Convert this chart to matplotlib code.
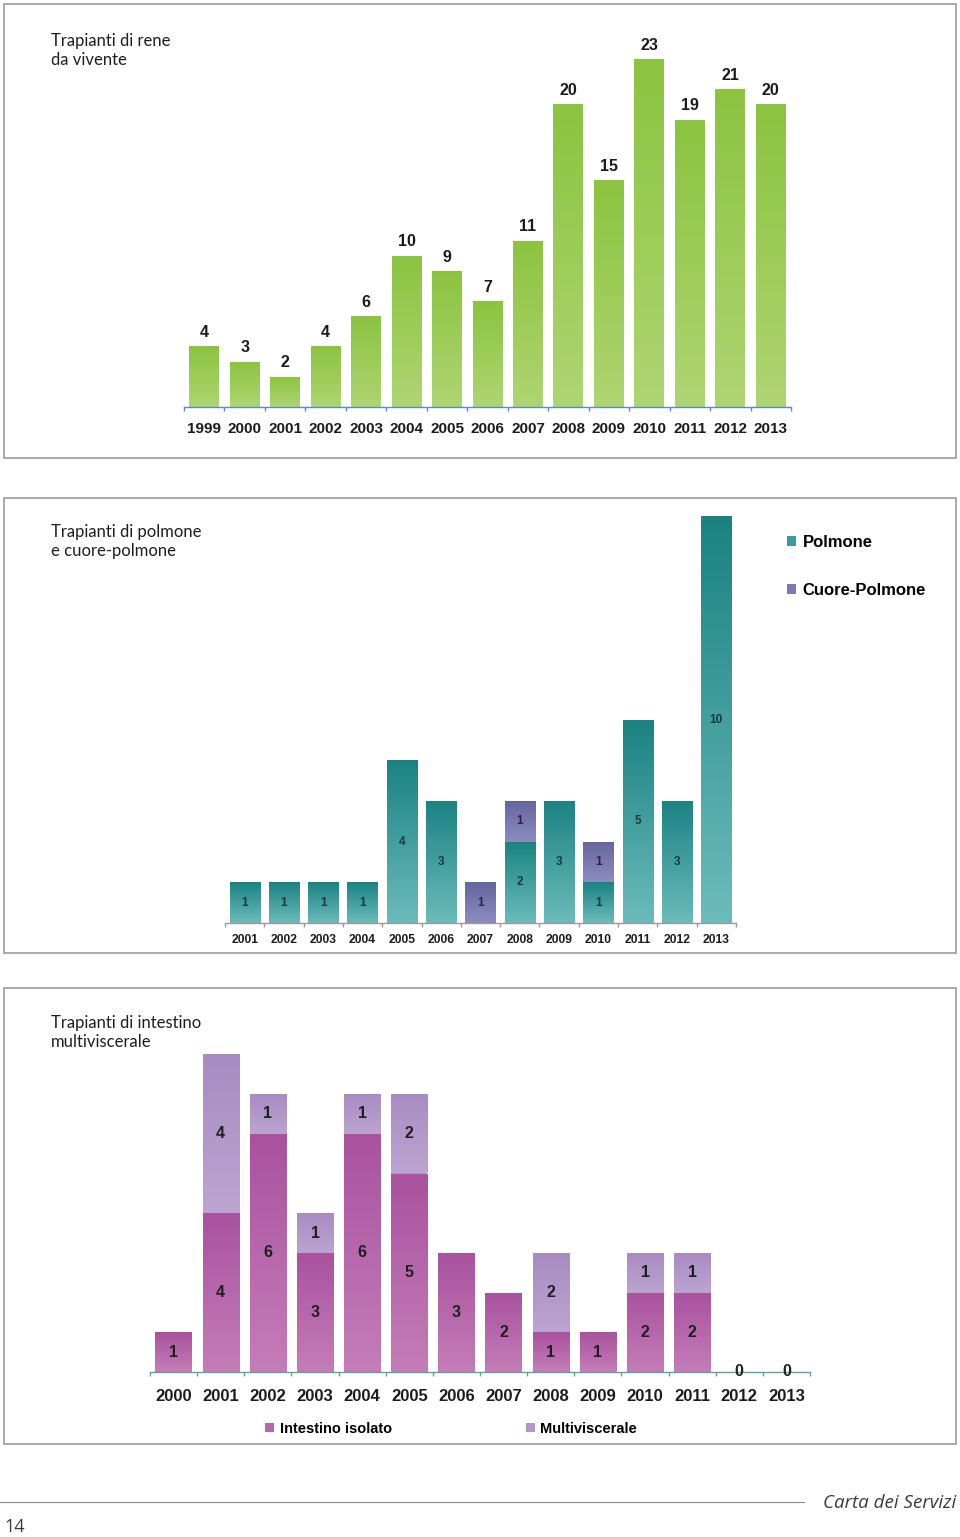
import numpy as np
import matplotlib
matplotlib.use("Agg")
import matplotlib.pyplot as plt
from matplotlib.colors import LinearSegmentedColormap
from matplotlib.patches import Rectangle
from matplotlib.lines import Line2D

# --------------------------------------------------------------------------- #
# Dati
# --------------------------------------------------------------------------- #
anni_rene = ["1999", "2000", "2001", "2002", "2003", "2004", "2005", "2006",
             "2007", "2008", "2009", "2010", "2011", "2012", "2013"]
rene_vivente = [4, 3, 2, 4, 6, 10, 9, 7, 11, 20, 15, 23, 19, 21, 20]

anni_polmone = ["2001", "2002", "2003", "2004", "2005", "2006", "2007",
                "2008", "2009", "2010", "2011", "2012", "2013"]
polmone = [1, 1, 1, 1, 4, 3, 0, 2, 3, 1, 5, 3, 10]
cuore_polmone = [0, 0, 0, 0, 0, 0, 1, 1, 0, 1, 0, 0, 0]

anni_intestino = ["2000", "2001", "2002", "2003", "2004", "2005", "2006",
                  "2007", "2008", "2009", "2010", "2011", "2012", "2013"]
intestino_isolato = [1, 4, 6, 3, 6, 5, 3, 2, 1, 1, 2, 2, 0, 0]
multiviscerale = [0, 4, 1, 1, 1, 2, 0, 0, 2, 0, 1, 1, 0, 0]

W, H = 960, 1537
SANS = ["Liberation Sans", "DejaVu Sans"]
TITOLO = ["Lato", "DejaVu Sans"]


def fx(x):
    return x / W


def fy(y):
    return 1 - y / H


def asse_px(fig, x0, x1, ytop, ybase):
    return fig.add_axes([fx(x0), fy(ybase), (x1 - x0) / W, (ybase - ytop) / H])


def gradiente(ax, bars, c_top, c_bot):
    """Riempie ogni barra con un gradiente verticale (scuro in alto)."""
    cmap = LinearSegmentedColormap.from_list("g", [c_bot, c_top])
    grad = np.linspace(0, 1, 128).reshape(-1, 1)
    for b in bars:
        if b.get_height() == 0:
            continue
        x0, y0 = b.get_x(), b.get_y()
        im = ax.imshow(grad, extent=[x0, x0 + b.get_width(), y0, y0 + b.get_height()],
                       origin="lower", cmap=cmap, aspect="auto", zorder=2,
                       interpolation="bilinear")
        im.set_clip_path(b)


def prepara_asse(ax, etichette, ymax, col_asse, fs, pad):
    n = len(etichette)
    ax.set_xlim(-0.5, n - 0.5)
    ax.set_ylim(0, ymax)
    ax.set_aspect("auto")
    for s in ("left", "top", "right"):
        ax.spines[s].set_visible(False)
    ax.spines["bottom"].set_color(col_asse)
    ax.spines["bottom"].set_linewidth(1.0)
    ax.set_yticks([])
    ax.set_xticks(range(n))
    ax.set_xticklabels(etichette, fontsize=fs, fontweight="bold", family=SANS)
    ax.tick_params(axis="x", which="major", length=0, pad=pad, labelcolor="#1c1c1c")
    ax.set_xticks(np.arange(n + 1) - 0.5, minor=True)
    ax.tick_params(axis="x", which="minor", length=3, width=1.0, color=col_asse,
                   direction="out")
    ax.patch.set_visible(False)


def cornice(fig, x0, y0, x1, y1):
    fig.add_artist(Rectangle((fx(x0), fy(y1)), (x1 - x0) / W, (y1 - y0) / H,
                             transform=fig.transFigure, fill=False,
                             edgecolor="#a3a3a3", lw=1.3))


fig = plt.figure(figsize=(W / 100, H / 100), dpi=100)

# --------------------------------------------------------------------------- #
# 1. Rene da vivente
# --------------------------------------------------------------------------- #
cornice(fig, 4, 4, 956, 458)
fig.text(fx(51), fy(33), "Trapianti di rene\nda vivente", va="top", ha="left",
         fontsize=12, family=TITOLO, linespacing=1.25, color="#1e1e1e")

ax1 = asse_px(fig, 184, 791, 30, 407)
x1 = np.arange(len(anni_rene))
b1 = ax1.bar(x1, rene_vivente, 0.74, color="#9bcc55", zorder=1)
gradiente(ax1, b1, "#8bc43f", "#aed572")
for i, v in enumerate(rene_vivente):
    ax1.annotate(str(v), (i, v), xytext=(0, 4.5), textcoords="offset points",
                 ha="center", va="bottom", fontsize=11.5, fontweight="bold",
                 family=SANS, color="#1a1a1a")
prepara_asse(ax1, anni_rene, 377 / 15.13, "#5b8cc0", 11, 11)

# --------------------------------------------------------------------------- #
# 2. Polmone e cuore-polmone
# --------------------------------------------------------------------------- #
cornice(fig, 4, 498, 956, 953)
fig.text(fx(51), fy(524), "Trapianti di polmone\ne cuore-polmone", va="top", ha="left",
         fontsize=12, family=TITOLO, linespacing=1.25, color="#1e1e1e")

ax2 = asse_px(fig, 225, 736, 505, 923)
x2 = np.arange(len(anni_polmone))
b2a = ax2.bar(x2, polmone, 0.77, color="#3a9c9c", zorder=1, label="Polmone")
b2b = ax2.bar(x2, cuore_polmone, 0.77, bottom=polmone, color="#7a79b2", zorder=1,
              label="Cuore-Polmone")
gradiente(ax2, b2a, "#1b8282", "#6cbbbb")
gradiente(ax2, b2b, "#66669f", "#8d8cc0")
for i, (p, c) in enumerate(zip(polmone, cuore_polmone)):
    if p:
        ax2.text(i, p / 2, str(p), ha="center", va="center", fontsize=8.5,
                 fontweight="bold", family=SANS, color="#173b3b", zorder=5)
    if c:
        ax2.text(i, p + c / 2, str(c), ha="center", va="center", fontsize=8.5,
                 fontweight="bold", family=SANS, color="#25254a", zorder=5)
prepara_asse(ax2, anni_polmone, 418 / 40.7, "#9a9a9a", 8.7, 8)

fig.legend(handles=[b2a, b2b], labels=["Polmone", "Cuore-Polmone"],
           loc="upper left", bbox_to_anchor=(fx(787), fy(535)), frameon=False,
           prop={"family": SANS, "weight": "bold", "size": 12},
           handlelength=0.55, handleheight=0.55, handletextpad=0.4,
           labelspacing=2.0, borderaxespad=0, borderpad=0)

# --------------------------------------------------------------------------- #
# 3. Intestino / multiviscerale
# --------------------------------------------------------------------------- #
cornice(fig, 4, 988, 956, 1444)
fig.text(fx(51), fy(1015), "Trapianti di intestino\nmultiviscerale", va="top",
         ha="left", fontsize=12, family=TITOLO, linespacing=1.25, color="#1e1e1e")

ax3 = asse_px(fig, 150, 810, 1040, 1372)
x3 = np.arange(len(anni_intestino))
b3a = ax3.bar(x3, intestino_isolato, 0.77, color="#b866ab", zorder=1,
              label="Intestino isolato")
b3b = ax3.bar(x3, multiviscerale, 0.77, bottom=intestino_isolato, color="#b296c8",
              zorder=1, label="Multiviscerale")
gradiente(ax3, b3a, "#a9529f", "#c47db8")
gradiente(ax3, b3b, "#a88bc1", "#bca4d1")
for i, (a, m) in enumerate(zip(intestino_isolato, multiviscerale)):
    ax3.text(i, a / 2, str(a), ha="center", va="center", fontsize=11.5,
             fontweight="bold", family=SANS, color="#1f1f1f", zorder=6)
    if m:
        ax3.text(i, a + m / 2, str(m), ha="center", va="center", fontsize=11.5,
                 fontweight="bold", family=SANS, color="#1f1f1f", zorder=6)
prepara_asse(ax3, anni_intestino, 332 / 39.7, "#6b9d9a", 12, 12)

fig.legend(handles=[b3a, b3b], labels=["Intestino isolato", "Multiviscerale"],
           loc="center left", bbox_to_anchor=(fx(265), fy(1429)), frameon=False,
           ncol=2, prop={"family": SANS, "weight": "bold", "size": 10.5},
           handlelength=0.6, handleheight=0.6, handletextpad=0.4,
           columnspacing=9.2, borderaxespad=0, borderpad=0)

# --------------------------------------------------------------------------- #
# Piè di pagina
# --------------------------------------------------------------------------- #
fig.add_artist(Line2D([0, fx(804)], [fy(1502), fy(1502)], transform=fig.transFigure,
                      color="#8a8a8a", lw=0.8))
fig.text(fx(956), fy(1503), "Carta dei Servizi", ha="right", va="center",
         fontsize=13.5, style="italic", family=["Open Sans", "DejaVu Sans"],
         color="#3a3a3a")
fig.text(fx(4), fy(1527), "14", ha="left", va="center", fontsize=13,
         family=["Open Sans", "DejaVu Sans"], color="#3a3a3a")

fig.savefig("out.png", dpi=100, facecolor="white")
